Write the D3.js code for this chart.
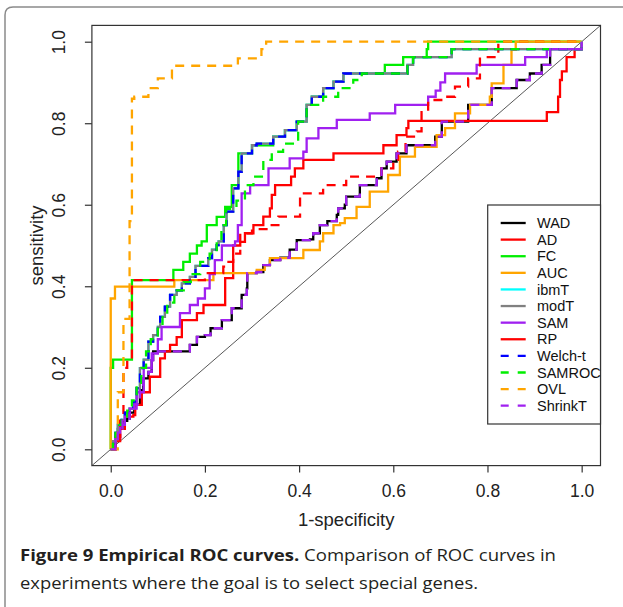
<!DOCTYPE html>
<html>
<head>
<meta charset="utf-8">
<script src="https://cdn.jsdelivr.net/npm/d3@7"></script>
<style>
  body { margin: 0; background: #fff; }
  svg { display: block; }
</style>
</head>
<body>
<div id="chart"></div>
<script>
// methods, in the order they are drawn and listed
var methods = ['WAD', 'AD', 'FC', 'AUC', 'ibmT', 'modT', 'SAM', 'RP', 'Welch-t', 'SAMROC', 'OVL', 'ShrinkT'];
var colors = ['#000000', '#ff0000', '#00ee00', '#ffa500', '#00ffff', '#808080', '#a020f0', '#ff0000', '#0000ff', '#00ee00', '#ffa500', '#a020f0'];
var dashedInLegend = [false, false, false, false, false, false, false, false, true, true, true, true];
var dashedInPlot = [false, false, false, false, false, false, false, true, true, true, true, true];

var xTicks = [0, 0.2, 0.4, 0.6, 0.8, 1.0];
var yTicks = [0, 0.2, 0.4, 0.6, 0.8, 1.0];

// [1-specificity, sensitivity]
var rocWAD = [[0,0],[0.01,0.02],[0.015,0.05],[0.025,0.07],[0.035,0.075],[0.04,0.09],[0.05,0.11],[0.062,0.145],[0.069,0.174],[0.08,0.19],[0.087,0.219],[0.09,0.24],[0.168,0.24],[0.168,0.256],[0.183,0.276],[0.2,0.28],[0.212,0.297],[0.236,0.317],[0.257,0.346],[0.278,0.379],[0.289,0.395],[0.29,0.432],[0.31,0.435],[0.324,0.452],[0.338,0.464],[0.36,0.47],[0.38,0.49],[0.395,0.513],[0.423,0.515],[0.43,0.53],[0.444,0.55],[0.46,0.56],[0.48,0.575],[0.483,0.591],[0.497,0.6],[0.5,0.62],[0.529,0.63],[0.529,0.648],[0.56,0.648],[0.565,0.665],[0.575,0.689],[0.586,0.706],[0.607,0.726],[0.628,0.746],[0.689,0.746],[0.689,0.767],[0.703,0.788],[0.703,0.804],[0.745,0.804],[0.759,0.824],[0.759,0.845],[0.805,0.845],[0.809,0.886],[0.86,0.886],[0.862,0.906],[0.89,0.906],[0.89,0.922],[0.915,0.922],[0.915,0.943],[0.933,0.943],[0.933,0.982],[0.993,0.982],[1,1]];
var rocAD = [[0,0],[0.01,0.02],[0.02,0.05],[0.03,0.08],[0.048,0.084],[0.052,0.109],[0.066,0.14],[0.083,0.178],[0.105,0.178],[0.105,0.223],[0.115,0.24],[0.126,0.256],[0.14,0.275],[0.151,0.28],[0.151,0.317],[0.183,0.317],[0.183,0.334],[0.197,0.334],[0.197,0.354],[0.243,0.354],[0.243,0.42],[0.26,0.42],[0.26,0.5],[0.275,0.509],[0.285,0.53],[0.303,0.55],[0.321,0.55],[0.324,0.571],[0.338,0.591],[0.342,0.624],[0.349,0.648],[0.38,0.648],[0.383,0.669],[0.391,0.689],[0.409,0.71],[0.469,0.71],[0.473,0.726],[0.575,0.726],[0.579,0.746],[0.607,0.75],[0.607,0.771],[0.628,0.788],[0.632,0.806],[0.922,0.806],[0.926,0.827],[0.947,0.827],[0.95,0.865],[0.954,0.906],[0.958,0.927],[0.968,0.962],[0.985,0.982],[1,1]];
var rocFC = [[0,0],[0,0.2],[0.005,0.22],[0.04,0.22],[0.045,0.415],[0.133,0.415],[0.133,0.44],[0.154,0.44],[0.154,0.46],[0.168,0.46],[0.168,0.48],[0.183,0.48],[0.183,0.5],[0.193,0.51],[0.204,0.55],[0.225,0.57],[0.243,0.595],[0.257,0.648],[0.271,0.726],[0.3,0.726],[0.3,0.746],[0.31,0.746],[0.345,0.767],[0.37,0.783],[0.395,0.804],[0.416,0.824],[0.416,0.845],[0.427,0.865],[0.451,0.886],[0.473,0.902],[0.494,0.922],[0.58,0.922],[0.582,0.943],[0.62,0.943],[0.621,0.962],[0.671,0.962],[0.671,0.982],[0.674,1],[1,1]];
var rocAUC = [[0,0],[0,0.37],[0.009,0.399],[0.129,0.399],[0.135,0.415],[0.218,0.415],[0.218,0.432],[0.296,0.432],[0.31,0.44],[0.327,0.452],[0.338,0.469],[0.395,0.469],[0.409,0.489],[0.444,0.49],[0.444,0.51],[0.451,0.53],[0.473,0.535],[0.473,0.55],[0.487,0.555],[0.497,0.567],[0.522,0.595],[0.55,0.632],[0.589,0.673],[0.614,0.718],[0.646,0.742],[0.692,0.771],[0.71,0.788],[0.731,0.79],[0.731,0.824],[0.763,0.83],[0.763,0.845],[0.805,0.85],[0.805,0.865],[0.809,0.898],[0.834,0.922],[0.834,0.943],[0.851,0.96],[0.851,0.98],[0.86,1],[1,1]];
var rocWelch = [[0,0],[0.005,0.02],[0.01,0.04],[0.015,0.06],[0.023,0.072],[0.03,0.09],[0.04,0.1],[0.048,0.117],[0.055,0.15],[0.062,0.199],[0.07,0.22],[0.08,0.264],[0.09,0.28],[0.1,0.3],[0.105,0.325],[0.115,0.35],[0.126,0.379],[0.14,0.39],[0.151,0.407],[0.168,0.423],[0.18,0.45],[0.207,0.469],[0.215,0.49],[0.225,0.501],[0.229,0.51],[0.24,0.55],[0.246,0.583],[0.26,0.64],[0.271,0.681],[0.278,0.726],[0.3,0.73],[0.3,0.746],[0.31,0.75],[0.345,0.767],[0.37,0.783],[0.395,0.804],[0.416,0.824],[0.416,0.845],[0.427,0.865],[0.451,0.886],[0.473,0.902],[0.494,0.922],[0.621,0.922],[0.63,0.943],[0.642,0.943],[0.642,0.962],[0.724,0.962],[0.724,0.982],[0.99,0.982],[1,1]];
var rocIbmT = rocWelch;
var rocModT = rocWelch;
var rocSAM = [[0,0],[0.01,0.03],[0.02,0.06],[0.03,0.08],[0.04,0.1],[0.055,0.14],[0.07,0.2],[0.087,0.235],[0.1,0.27],[0.108,0.3],[0.12,0.3],[0.147,0.334],[0.168,0.354],[0.185,0.37],[0.2,0.395],[0.21,0.43],[0.221,0.464],[0.236,0.5],[0.264,0.51],[0.27,0.55],[0.278,0.628],[0.296,0.648],[0.335,0.65],[0.335,0.689],[0.38,0.69],[0.38,0.714],[0.409,0.73],[0.416,0.763],[0.441,0.77],[0.441,0.788],[0.48,0.79],[0.48,0.808],[0.547,0.808],[0.55,0.824],[0.604,0.824],[0.604,0.845],[0.671,0.845],[0.674,0.865],[0.69,0.88],[0.7,0.9],[0.71,0.922],[0.777,0.922],[0.777,0.943],[0.88,0.943],[0.88,0.962],[0.926,0.962],[0.926,0.982],[0.993,0.982],[1,1]];
var rocRP = [[0,0],[0.01,0.03],[0.02,0.07],[0.027,0.09],[0.027,0.2],[0.035,0.219],[0.045,0.22],[0.045,0.415],[0.133,0.415],[0.2,0.432],[0.239,0.432],[0.239,0.448],[0.25,0.46],[0.26,0.48],[0.275,0.53],[0.3,0.54],[0.335,0.55],[0.356,0.571],[0.395,0.571],[0.402,0.612],[0.402,0.628],[0.423,0.628],[0.451,0.648],[0.497,0.648],[0.5,0.669],[0.568,0.669],[0.575,0.689],[0.6,0.71],[0.61,0.73],[0.626,0.767],[0.65,0.78],[0.66,0.8],[0.66,0.827],[0.674,0.857],[0.71,0.865],[0.731,0.89],[0.759,0.91],[0.784,0.943],[0.784,0.962],[0.823,0.962],[0.823,1],[1,1]];
var rocSAMROC = [[0,0],[0.005,0.02],[0.01,0.04],[0.015,0.06],[0.023,0.075],[0.035,0.095],[0.045,0.12],[0.055,0.16],[0.065,0.2],[0.075,0.24],[0.085,0.27],[0.1,0.3],[0.11,0.33],[0.12,0.36],[0.135,0.39],[0.155,0.41],[0.17,0.43],[0.19,0.46],[0.21,0.48],[0.225,0.51],[0.235,0.55],[0.245,0.59],[0.267,0.61],[0.285,0.63],[0.285,0.648],[0.303,0.648],[0.303,0.669],[0.324,0.689],[0.324,0.71],[0.342,0.71],[0.342,0.73],[0.366,0.73],[0.366,0.75],[0.398,0.75],[0.398,0.804],[0.416,0.804],[0.416,0.845],[0.451,0.845],[0.451,0.865],[0.483,0.865],[0.483,0.886],[0.497,0.886],[0.515,0.906],[0.533,0.922],[0.621,0.922],[0.63,0.943],[0.642,0.962],[0.724,0.962],[0.724,0.982],[0.99,0.982],[1,1]];
var rocOVL = [[0,0],[0.015,0.02],[0.015,0.14],[0.027,0.15],[0.027,0.32],[0.04,0.33],[0.04,0.56],[0.045,0.6],[0.045,0.86],[0.05,0.865],[0.08,0.865],[0.08,0.886],[0.1,0.89],[0.1,0.91],[0.13,0.92],[0.13,0.941],[0.26,0.941],[0.27,0.959],[0.31,0.959],[0.32,0.982],[0.33,1],[1,1]];
var rocShrinkT = rocWAD;

var curves = [rocWAD, rocAD, rocFC, rocAUC, rocIbmT, rocModT, rocSAM, rocRP, rocWelch, rocSAMROC, rocOVL, rocShrinkT];

var W = 623, H = 607;
var svg = d3.select('#chart').append('svg')
    .attr('width', W)
    .attr('height', H)
    .style('font-family', '"Liberation Sans", Arial, sans-serif');

// outer figure frame
svg.append('path')
    .attr('d', 'M623,7 H13 Q5,7 5,15 V607')
    .attr('fill', 'none')
    .attr('stroke', '#8a8a8a')
    .attr('stroke-width', 1.5);

// R-style 4% padding on both axes
var x = d3.scaleLinear().domain([-0.04, 1.04]).range([91.9, 600.5]);
var y = d3.scaleLinear().domain([-0.04, 1.04]).range([465.6, 25.4]);

// diagonal reference line
svg.append('line')
    .attr('x1', x(-0.04)).attr('y1', y(-0.04))
    .attr('x2', x(1.04)).attr('y2', y(1.04))
    .attr('stroke', '#444')
    .attr('stroke-width', 0.9);

var line = d3.line()
    .x(function (d) { return x(d[0]); })
    .y(function (d) { return y(d[1]); })
    .curve(d3.curveStepAfter);

svg.append('g').selectAll('path')
    .data(curves)
    .enter()
    .append('path')
    .attr('d', line)
    .attr('fill', 'none')
    .attr('stroke', function (d, i) { return colors[i]; })
    .attr('stroke-width', 2.3)
    .attr('stroke-dasharray', function (d, i) { return dashedInPlot[i] ? '9,7' : null; });

// plot box
svg.append('rect')
    .attr('x', x(-0.04)).attr('y', y(1.04))
    .attr('width', x(1.04) - x(-0.04))
    .attr('height', y(-0.04) - y(1.04))
    .attr('fill', 'none')
    .attr('stroke', '#333')
    .attr('stroke-width', 1.2);

// axes
var xAxis = svg.append('g')
    .attr('transform', 'translate(0,' + y(-0.04) + ')')
    .call(d3.axisBottom(x).tickValues(xTicks).tickFormat(d3.format('.1f')).tickSize(7).tickSizeOuter(0));
xAxis.select('.domain').remove();
xAxis.selectAll('.tick line').attr('stroke', '#333').attr('stroke-width', 1.2);
xAxis.selectAll('.tick text')
    .attr('y', 19).attr('dy', '0.71em')
    .attr('fill', '#222')
    .style('font-size', '17.5px')
    .style('font-family', '"Liberation Sans", Arial, sans-serif');

var yAxis = svg.append('g')
    .attr('transform', 'translate(' + x(-0.04) + ',0)')
    .call(d3.axisLeft(y).tickValues(yTicks).tickFormat(d3.format('.1f')).tickSize(7).tickSizeOuter(0));
yAxis.select('.domain').remove();
yAxis.selectAll('.tick line').attr('stroke', '#333').attr('stroke-width', 1.2);
yAxis.selectAll('.tick text')
    .attr('transform', 'rotate(-90)')
    .attr('x', 0).attr('y', -27).attr('dy', 0)
    .style('text-anchor', 'middle')
    .attr('fill', '#222')
    .style('font-size', '17.5px')
    .style('font-family', '"Liberation Sans", Arial, sans-serif');

// axis titles
svg.append('text')
    .attr('x', (x(-0.04) + x(1.04)) / 2)
    .attr('y', 526)
    .attr('text-anchor', 'middle')
    .attr('fill', '#222')
    .style('font-size', '18.5px')
    .text('1-specificity');
svg.append('text')
    .attr('transform', 'translate(43,' + (y(-0.04) + y(1.04)) / 2 + ') rotate(-90)')
    .attr('text-anchor', 'middle')
    .attr('fill', '#222')
    .style('font-size', '18.5px')
    .text('sensitivity');

// legend
var legX = 487.7, legY = 205, legW = 600.5 - 487.7, legH = 219;
svg.append('rect')
    .attr('x', legX).attr('y', legY)
    .attr('width', legW).attr('height', legH)
    .attr('fill', '#fff')
    .attr('stroke', '#333')
    .attr('stroke-width', 1.2);
var legRow = d3.scalePoint().domain(methods).range([223, 405.7]);
var leg = svg.append('g').selectAll('g')
    .data(methods)
    .enter()
    .append('g')
    .attr('transform', function (d) { return 'translate(0,' + legRow(d) + ')'; });
leg.append('line')
    .attr('x1', 500.7).attr('x2', 525.7)
    .attr('stroke', function (d, i) { return colors[i]; })
    .attr('stroke-width', 2.3)
    .attr('stroke-dasharray', function (d, i) { return dashedInLegend[i] ? '8,9' : null; });
leg.append('text')
    .attr('x', 537)
    .attr('dy', '0.36em')
    .attr('fill', '#111')
    .style('font-size', '14.5px')
    .text(function (d) { return d; });

// caption
var cap = svg.append('g')
    .style('font-family', '"Open Sans", "Noto Sans", sans-serif')
    .style('font-size', '16.5px')
    .attr('fill', '#231f20');
var line1 = cap.append('text').attr('x', 20).attr('y', 561)
    .attr('textLength', 536).attr('lengthAdjust', 'spacingAndGlyphs');
line1.append('tspan').style('font-weight', 'bold').text('Figure 9 Empirical ROC curves.');
line1.append('tspan').text(' Comparison of ROC curves in');
cap.append('text').attr('x', 20).attr('y', 589)
    .attr('textLength', 458).attr('lengthAdjust', 'spacingAndGlyphs')
    .text('experiments where the goal is to select special genes.');
</script>
</body>
</html>
